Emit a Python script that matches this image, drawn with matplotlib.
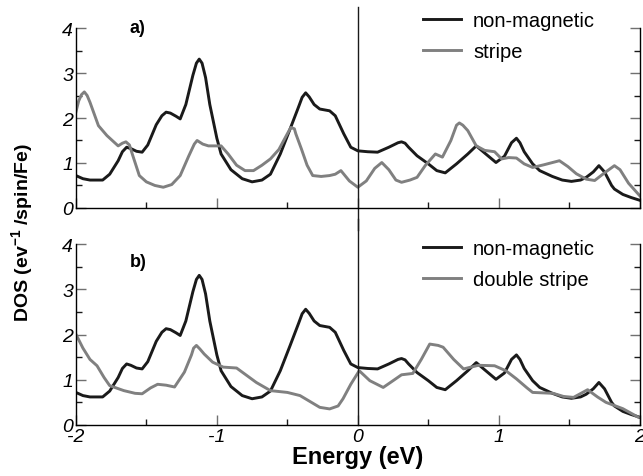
import matplotlib
matplotlib.use("Agg")
import matplotlib.pyplot as plt
from matplotlib.ticker import MultipleLocator

plt.rcParams['font.family'] = ['Liberation Sans', 'DejaVu Sans']
plt.rcParams['mathtext.fontset'] = 'custom'
plt.rcParams['mathtext.rm'] = 'Liberation Sans:bold'
plt.rcParams['mathtext.default'] = 'rm'

# non-magnetic DOS (same in both panels)
nm_e = [-2.00, -1.95, -1.90, -1.81, -1.76, -1.70, -1.67, -1.64, -1.61, -1.57, -1.53, -1.49,
        -1.43, -1.39, -1.36, -1.33, -1.29, -1.26, -1.22, -1.17, -1.145, -1.125, -1.105, -1.08,
        -1.05, -1.00, -0.97, -0.90, -0.82, -0.75, -0.68, -0.62, -0.55, -0.48, -0.42, -0.395,
        -0.37, -0.345, -0.31, -0.27, -0.20, -0.16, -0.10, -0.05, 0.00, 0.07, 0.14, 0.22,
        0.285, 0.31, 0.335, 0.36, 0.42, 0.50, 0.56, 0.62, 0.70, 0.78, 0.84, 0.90, 0.98,
        1.04, 1.09, 1.125, 1.15, 1.18, 1.24, 1.29, 1.38, 1.45, 1.515, 1.58, 1.62, 1.67,
        1.71, 1.75, 1.80, 1.82, 1.88, 1.94, 2.00]
nm_dos = [0.72, 0.65, 0.62, 0.62, 0.75, 1.05, 1.25, 1.35, 1.32, 1.26, 1.24, 1.40,
          1.85, 2.05, 2.13, 2.11, 2.04, 1.98, 2.30, 2.95, 3.22, 3.31, 3.22, 2.90,
          2.30, 1.55, 1.20, 0.85, 0.65, 0.58, 0.62, 0.75, 1.20, 1.76, 2.25, 2.46,
          2.56, 2.47, 2.30, 2.20, 2.16, 2.05, 1.65, 1.35, 1.27, 1.25, 1.24, 1.35,
          1.45, 1.47, 1.44, 1.35, 1.16, 0.98, 0.83, 0.78, 0.98, 1.20, 1.38, 1.22, 1.01,
          1.15, 1.45, 1.55, 1.45, 1.25, 0.98, 0.83, 0.70, 0.62, 0.59, 0.62, 0.68, 0.80,
          0.94, 0.80, 0.50, 0.42, 0.30, 0.23, 0.17]

# stripe DOS (panel a)
st_e = [-2.00, -1.98, -1.96, -1.94, -1.92, -1.90, -1.84, -1.78, -1.70, -1.67, -1.645, -1.62,
        -1.60, -1.55, -1.50, -1.44, -1.38, -1.32, -1.26, -1.20, -1.16, -1.14, -1.12, -1.10,
        -1.06, -0.97, -0.92, -0.86, -0.80, -0.74, -0.68, -0.62, -0.56, -0.50, -0.475, -0.45,
        -0.44, -0.40, -0.36, -0.32, -0.26, -0.20, -0.16, -0.12, -0.06, 0.00, 0.06, 0.12,
        0.17, 0.22, 0.27, 0.31, 0.37, 0.42, 0.48, 0.55, 0.60, 0.66, 0.70, 0.72, 0.745,
        0.78, 0.84, 0.90, 0.97, 1.02, 1.07, 1.125, 1.18, 1.24, 1.32, 1.43, 1.49, 1.55,
        1.62, 1.68, 1.75, 1.82, 1.86, 1.92, 2.00]
st_dos = [2.13, 2.38, 2.52, 2.58, 2.50, 2.35, 1.83, 1.61, 1.38, 1.44, 1.47, 1.40,
          1.20, 0.72, 0.58, 0.50, 0.46, 0.52, 0.72, 1.15, 1.42, 1.50, 1.46, 1.42,
          1.38, 1.38, 1.20, 0.95, 0.83, 0.83, 0.95, 1.09, 1.30, 1.65, 1.79, 1.76,
          1.65, 1.31, 0.95, 0.72, 0.70, 0.72, 0.75, 0.83, 0.60, 0.46, 0.60, 0.88,
          1.01, 0.85, 0.62, 0.57, 0.62, 0.68, 0.95, 1.20, 1.13, 1.50, 1.84, 1.89, 1.84,
          1.72, 1.38, 1.28, 1.25, 1.09, 1.12, 1.11, 0.98, 0.90, 0.96, 1.05, 0.92, 0.76,
          0.64, 0.61, 0.78, 0.94, 0.85, 0.55, 0.27]

# double stripe DOS (panel b)
ds_e = [-2.00, -1.95, -1.90, -1.85, -1.80, -1.76, -1.66, -1.58, -1.53, -1.47, -1.42, -1.36,
        -1.30, -1.23, -1.18, -1.165, -1.145, -1.12, -1.09, -1.03, -0.955, -0.86, -0.79,
        -0.72, -0.62, -0.50, -0.41, -0.34, -0.27, -0.20, -0.14, -0.105, -0.05, 0.01, 0.085,
        0.18, 0.25, 0.31, 0.39, 0.45, 0.51, 0.57, 0.605, 0.68, 0.75, 0.855, 0.97, 1.05,
        1.125, 1.20, 1.24, 1.385, 1.46, 1.53, 1.63, 1.70, 1.76, 1.88, 1.99]
ds_dos = [2.01, 1.70, 1.45, 1.31, 1.05, 0.87, 0.76, 0.70, 0.69, 0.82, 0.90, 0.88,
          0.84, 1.17, 1.55, 1.70, 1.76, 1.68, 1.57, 1.39, 1.28, 1.26, 1.10,
          0.94, 0.76, 0.72, 0.65, 0.52, 0.39, 0.355, 0.42, 0.58, 0.90, 1.20, 0.98,
          0.83, 0.98, 1.11, 1.14, 1.45, 1.79, 1.76, 1.72, 1.45, 1.24, 1.32, 1.31, 1.20,
          1.02, 0.82, 0.72, 0.70, 0.63, 0.61, 0.78, 0.62, 0.50, 0.36, 0.17]

xticks = [-2, -1, 0, 1, 2]
yticks = [0, 1, 2, 3, 4]

black = '#1a1a1a'
grey = '#808080'

fig = plt.figure(figsize=(6.43, 4.77), dpi=100)
ax1 = fig.add_axes([0.118, 0.562, 0.877, 0.377])
ax2 = fig.add_axes([0.118, 0.107, 0.877, 0.379])

panels = [(ax1, st_e, st_dos, 'stripe', 'a)', 1.005, 1.095),
          (ax2, ds_e, ds_dos, 'double stripe', 'b)', 0.906, 1.03)]

for ax, e, d, lab, tag, tag_y, leg_y in panels:
    ax.plot(nm_e, nm_dos, color=black, lw=2.1, label='non-magnetic')
    ax.plot(e, d, color=grey, lw=2.1, label=lab)
    ax.set_xlim(-2, 2)
    ax.set_ylim(0, 4)
    ax.spines['top'].set_visible(False)
    for s in ['left', 'bottom', 'right']:
        ax.spines[s].set_linewidth(1.0)
    ax.xaxis.set_major_locator(MultipleLocator(1))
    ax.xaxis.set_minor_locator(MultipleLocator(0.5))
    ax.yaxis.set_minor_locator(MultipleLocator(0.5))
    ax.tick_params(which='major', direction='in', length=7, width=1, color='#707070',
                   right=True, labelsize=14, pad=2)
    ax.tick_params(which='minor', direction='in', length=4, width=1, color=black, right=True)
    ax.set_yticks(yticks)
    ax.set_yticklabels([str(v) for v in yticks])
    for t in ax.get_yticklabels():
        t.set_fontstyle('italic')
    ax.text(0.095, tag_y, tag, transform=ax.transAxes, fontsize=13, fontweight='bold',
            va='center', ha='left')
    ax.legend(loc='upper left', bbox_to_anchor=(0.615, leg_y), frameon=False,
              fontsize=14.5, handlelength=1.9, handletextpad=0.6, labelspacing=0.6,
              borderpad=0, borderaxespad=0)

ax1.tick_params(labelbottom=False)
ax2.set_xticks(xticks)
ax2.set_xticklabels([str(v) for v in xticks])
for t in ax2.get_xticklabels():
    t.set_fontstyle('italic')

# Fermi level line through both panels
ax1.axvline(0, ymin=-0.12, ymax=1.12, color=black, lw=1.0, clip_on=False)
ax2.axvline(0, ymin=0, ymax=1.14, color=black, lw=1.0, clip_on=False)

ax2.set_xlabel('Energy (eV)', fontsize=17, fontweight='bold', labelpad=0)
fig.text(0.034, 0.513, r'DOS (ev$^{-1}$ /spin/Fe)', rotation=90, fontsize=14,
         fontweight='bold', ha='center', va='center')

fig.savefig('out.png', dpi=100)
